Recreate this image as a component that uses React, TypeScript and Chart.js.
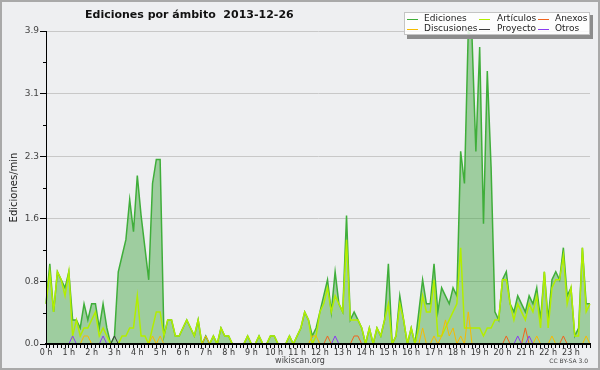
import React, { useEffect, useRef } from 'react';
import { Chart, registerables } from 'chart.js';

Chart.register(...registerables);

// ---- Data (edits per minute, 10-minute bins, 2013-12-26) ----
const hourLabels = [
  '0 h', '1 h', '2 h', '3 h', '4 h', '5 h', '6 h', '7 h', '8 h', '9 h', '10 h', '11 h',
  '12 h', '13 h', '14 h', '15 h', '16 h', '17 h', '18 h', '19 h', '20 h', '21 h', '22 h', '23 h',
];
const times = Array.from({ length: 144 }, (_, i) => `${Math.floor(i / 6)}:${String((i % 6) * 10).padStart(2, '0')}`);

const ediciones = [
  0.5, 1.0, 0.4, 0.9, 0.8, 0.7, 0.9, 0.3, 0.3, 0.2, 0.5, 0.3,
  0.5, 0.5, 0.2, 0.5, 0.2, 0.0, 0.1, 0.9, 1.1, 1.3, 1.8, 1.4,
  2.1, 1.6, 1.2, 0.8, 2.0, 2.3, 2.3, 0.1, 0.3, 0.3, 0.1, 0.1,
  0.2, 0.3, 0.2, 0.1, 0.3, 0.0, 0.1, 0.0, 0.1, 0.0, 0.2, 0.1,
  0.1, 0.0, 0.0, 0.0, 0.0, 0.1, 0.0, 0.0, 0.1, 0.0, 0.0, 0.1,
  0.1, 0.0, 0.0, 0.0, 0.1, 0.0, 0.1, 0.2, 0.4, 0.3, 0.1, 0.2,
  0.4, 0.6, 0.8, 0.4, 0.9, 0.5, 0.4, 1.6, 0.3, 0.4, 0.3, 0.2,
  0.0, 0.2, 0.0, 0.2, 0.1, 0.3, 1.0, 0.0, 0.1, 0.6, 0.3, 0.0,
  0.2, 0.0, 0.4, 0.8, 0.5, 0.5, 1.0, 0.4, 0.7, 0.6, 0.5, 0.7,
  0.6, 2.4, 2.0, 3.9, 3.8, 2.4, 3.7, 1.5, 3.4, 2.2, 0.4, 0.3,
  0.8, 0.9, 0.5, 0.4, 0.6, 0.5, 0.4, 0.6, 0.5, 0.7, 0.3, 0.9,
  0.3, 0.8, 0.9, 0.8, 1.2, 0.6, 0.7, 0.1, 0.2, 1.2, 0.5, 0.5,
];
const articulos = [
  0.5, 0.9, 0.4, 0.9, 0.8, 0.6, 0.9, 0.1, 0.3, 0.1, 0.2, 0.2,
  0.3, 0.4, 0.1, 0.2, 0.1, 0.0, 0.0, 0.0, 0.1, 0.1, 0.2, 0.2,
  0.6, 0.1, 0.1, 0.0, 0.2, 0.4, 0.4, 0.1, 0.3, 0.3, 0.1, 0.1,
  0.2, 0.3, 0.2, 0.1, 0.3, 0.0, 0.0, 0.0, 0.1, 0.0, 0.2, 0.1,
  0.1, 0.0, 0.0, 0.0, 0.0, 0.1, 0.0, 0.0, 0.1, 0.0, 0.0, 0.1,
  0.1, 0.0, 0.0, 0.0, 0.1, 0.0, 0.1, 0.2, 0.4, 0.3, 0.0, 0.1,
  0.4, 0.5, 0.7, 0.4, 0.6, 0.5, 0.4, 1.3, 0.3, 0.3, 0.3, 0.2,
  0.0, 0.2, 0.0, 0.2, 0.1, 0.3, 0.5, 0.0, 0.1, 0.5, 0.3, 0.0,
  0.2, 0.0, 0.2, 0.6, 0.4, 0.4, 0.8, 0.1, 0.1, 0.2, 0.3, 0.4,
  0.5, 1.2, 0.2, 0.2, 0.2, 0.2, 0.2, 0.1, 0.2, 0.2, 0.3, 0.3,
  0.8, 0.8, 0.5, 0.3, 0.5, 0.4, 0.3, 0.5, 0.4, 0.6, 0.2, 0.9,
  0.2, 0.7, 0.8, 0.8, 1.1, 0.5, 0.7, 0.1, 0.1, 1.2, 0.4, 0.5,
];
const discusiones = [
  0, 0, 0, 0, 0, 0, 0, 0, 0, 0, 0.1, 0.1,
  0, 0, 0, 0, 0, 0, 0, 0, 0, 0, 0, 0,
  0, 0, 0, 0, 0.1, 0, 0.1, 0, 0, 0, 0, 0,
  0, 0, 0, 0, 0, 0, 0.1, 0, 0, 0, 0, 0,
  0, 0, 0, 0, 0, 0, 0, 0, 0, 0, 0, 0,
  0, 0, 0, 0, 0, 0, 0, 0, 0, 0, 0.1, 0.1,
  0, 0, 0, 0, 0, 0, 0, 0, 0, 0, 0, 0,
  0, 0, 0, 0, 0, 0, 0, 0, 0, 0, 0, 0,
  0, 0, 0, 0.2, 0, 0, 0.1, 0, 0.1, 0.3, 0.1, 0.2,
  0, 0.1, 0, 0.4, 0, 0, 0, 0, 0, 0, 0, 0,
  0, 0, 0, 0, 0, 0, 0, 0, 0, 0.1, 0, 0,
  0, 0.1, 0, 0, 0, 0, 0, 0, 0, 0, 0.1, 0,
];
const anexos = [
  0, 0, 0, 0, 0, 0, 0, 0, 0, 0, 0, 0,
  0, 0, 0, 0, 0, 0, 0, 0, 0, 0, 0, 0,
  0, 0, 0, 0, 0, 0, 0, 0, 0, 0, 0, 0,
  0, 0, 0, 0, 0, 0, 0, 0, 0, 0, 0, 0,
  0, 0, 0, 0, 0, 0, 0, 0, 0, 0, 0, 0,
  0, 0, 0, 0, 0, 0, 0, 0, 0, 0, 0, 0,
  0, 0, 0.1, 0, 0, 0, 0, 0, 0, 0.1, 0.1, 0,
  0, 0, 0, 0, 0, 0, 0, 0, 0, 0, 0, 0,
  0, 0, 0, 0, 0, 0, 0, 0, 0, 0, 0, 0,
  0, 0, 0, 0, 0, 0, 0, 0, 0, 0, 0, 0,
  0, 0.1, 0, 0, 0, 0, 0.2, 0, 0, 0, 0, 0,
  0, 0, 0, 0, 0.1, 0, 0, 0, 0, 0, 0, 0,
];
const proyecto = [
  0, 0, 0, 0, 0, 0, 0, 0, 0, 0, 0, 0,
  0, 0, 0, 0, 0, 0, 0.1, 0, 0, 0, 0, 0,
  0, 0, 0, 0, 0, 0, 0, 0, 0, 0, 0, 0,
  0, 0, 0, 0, 0, 0, 0, 0, 0, 0, 0, 0,
  0, 0, 0, 0, 0, 0, 0, 0, 0, 0, 0, 0,
  0, 0, 0, 0, 0, 0, 0, 0, 0, 0, 0, 0,
  0, 0, 0, 0, 0, 0, 0, 0, 0, 0, 0, 0,
  0, 0, 0, 0, 0, 0, 0, 0, 0, 0, 0, 0,
  0, 0, 0, 0, 0, 0, 0, 0, 0, 0, 0, 0,
  0, 0, 0, 0, 0, 0, 0, 0, 0, 0, 0, 0,
  0, 0, 0, 0, 0, 0, 0, 0, 0, 0, 0, 0,
  0, 0, 0, 0, 0, 0, 0, 0, 0, 0, 0, 0,
];
const otros = [
  0, 0, 0, 0, 0, 0, 0, 0.1, 0, 0, 0, 0,
  0, 0, 0, 0.1, 0, 0, 0, 0, 0, 0, 0, 0,
  0, 0, 0, 0, 0, 0, 0, 0, 0, 0, 0, 0,
  0, 0, 0, 0, 0, 0, 0, 0, 0, 0, 0, 0,
  0, 0, 0, 0, 0, 0, 0, 0, 0, 0, 0, 0,
  0, 0, 0, 0, 0, 0, 0, 0, 0, 0, 0, 0,
  0, 0, 0, 0, 0.1, 0, 0, 0, 0, 0, 0, 0,
  0, 0, 0, 0, 0, 0, 0, 0, 0, 0, 0, 0,
  0, 0, 0, 0, 0, 0, 0, 0, 0, 0, 0, 0,
  0, 0, 0, 0, 0, 0, 0, 0, 0, 0, 0, 0,
  0, 0, 0, 0, 0.1, 0, 0, 0.1, 0, 0, 0, 0,
  0, 0, 0, 0, 0, 0, 0, 0, 0, 0, 0, 0,
];

const yMax = 3.9;
const yTickValues = [0, 0.78, 1.56, 2.34, 3.12, 3.9];
const yTickLabels = ['0.0', '0.8', '1.6', '2.3', '3.1', '3.9'];
const yMinorValues = [0.39, 1.17, 1.95, 2.73, 3.51];

const titleText = 'Ediciones por ámbito  2013-12-26';
const yTitle = 'Ediciones/min';

const COLORS = {
  ediciones: '#3fae3a',
  articulos: '#b2ee00',
  discusiones: '#f5bb00',
  anexos: '#f0641e',
  proyecto: '#3c3c3c',
  otros: '#8a3cf0',
};

// legend layout: [label, color] by rows
const legendRows = [
  [['Ediciones', COLORS.ediciones], ['Artículos', COLORS.articulos], ['Anexos', COLORS.anexos]],
  [['Discusiones', COLORS.discusiones], ['Proyecto', COLORS.proyecto], ['Otros', COLORS.otros]],
];

const decorPlugin = {
  id: 'decor',
  beforeDraw(chart: any) {
    const { ctx, width, height } = chart;
    ctx.save();
    ctx.fillStyle = '#eeeff1';
    ctx.fillRect(0, 0, width, height);
    ctx.strokeStyle = '#a9a9a9';
    ctx.lineWidth = 2;
    ctx.strokeRect(1, 1, width - 2, height - 2);
    ctx.restore();
  },
  afterDraw(chart: any) {
    const { ctx } = chart;
    const y = chart.scales.y;
    ctx.save();
    // minor y ticks
    ctx.strokeStyle = '#000';
    ctx.lineWidth = 1;
    yMinorValues.forEach((v) => {
      const py = Math.round(y.getPixelForValue(v)) + 0.5;
      ctx.beginPath();
      ctx.moveTo(y.right - 3, py);
      ctx.lineTo(y.right, py);
      ctx.stroke();
    });
    // title
    ctx.font = 'bold 11px "DejaVu Sans"';
    ctx.fillStyle = '#111';
    ctx.textAlign = 'left';
    ctx.textBaseline = 'alphabetic';
    ctx.fillText(titleText, 85, 18);
    // footer
    ctx.font = '8px "DejaVu Sans"';
    ctx.fillStyle = '#444';
    ctx.textAlign = 'center';
    ctx.fillText('wikiscan.org', 300, 363);
    ctx.font = '6px "DejaVu Sans"';
    ctx.textAlign = 'right';
    ctx.fillText('CC BY-SA 3.0', 588, 363);
    // legend
    const bx = 404, by = 12, bw = 186, bh = 23;
    ctx.fillStyle = '#8c8c8c';
    ctx.fillRect(bx + 3, by + bh, bw, 4);
    ctx.fillRect(bx + bw, by + 3, 3, bh + 1);
    ctx.fillStyle = 'rgba(255,255,255,0.85)';
    ctx.fillRect(bx, by, bw, bh);
    ctx.strokeStyle = '#c4c4c4';
    ctx.lineWidth = 1;
    ctx.strokeRect(bx + 0.5, by + 0.5, bw - 1, bh - 1);
    const colX = [407, 479, 538];
    const textX = [424, 497, 555];
    const rowY = [19, 29];
    ctx.font = '9px "DejaVu Sans"';
    ctx.textAlign = 'left';
    ctx.textBaseline = 'middle';
    legendRows.forEach((row, r) => {
      row.forEach(([label, color], c) => {
        ctx.strokeStyle = color;
        ctx.lineWidth = 1;
        ctx.beginPath();
        ctx.moveTo(colX[c], rowY[r] + 0.5);
        ctx.lineTo(colX[c] + 11, rowY[r] + 0.5);
        ctx.stroke();
        ctx.fillStyle = '#222';
        ctx.fillText(label, textX[c], rowY[r]);
      });
    });
    ctx.restore();
  },
};

export default function App() {
  const ref = useRef<HTMLCanvasElement>(null);

  useEffect(() => {
    if (!ref.current) return;
    Chart.defaults.font.family = '"DejaVu Sans"';
    const line = (label: string, data: number[], color: string, order: number, width: number) => ({
      label,
      data,
      borderColor: color,
      backgroundColor: color,
      borderWidth: width,
      pointRadius: 0,
      fill: false,
      tension: 0,
      order,
    });
    const chart = new Chart(ref.current, {
      type: 'line',
      data: {
        labels: times,
        datasets: [
          {
            ...line('Ediciones', ediciones, COLORS.ediciones, 6, 1.5),
            fill: 'origin',
            backgroundColor: 'rgba(60,165,60,0.45)',
          },
          line('Artículos', articulos, COLORS.articulos, 5, 1.5),
          line('Discusiones', discusiones, COLORS.discusiones, 4, 1),
          line('Anexos', anexos, COLORS.anexos, 3, 1),
          line('Proyecto', proyecto, COLORS.proyecto, 2, 1),
          line('Otros', otros, COLORS.otros, 1, 1),
        ],
      },
      options: {
        responsive: false,
        maintainAspectRatio: false,
        animation: false,
        devicePixelRatio: 1,
        layout: { padding: { top: 31, right: 10, left: 0, bottom: 0 } },
        plugins: {
          legend: { display: false },
          title: { display: false },
          tooltip: { enabled: false },
        },
        scales: {
          x: {
            type: 'category',
            offset: false,
            afterFit: (s: any) => { s.height = 26; },
            ticks: {
              autoSkip: false,
              maxRotation: 0,
              minRotation: 0,
              padding: 0,
              color: '#333',
              font: { family: '"DejaVu Sans"', size: 8 },
              callback: (_v: any, i: number) => (i % 6 === 0 ? hourLabels[i / 6] : ''),
            },
            grid: {
              display: true,
              drawOnChartArea: false,
              drawTicks: true,
              tickLength: 4,
              tickColor: '#000',
              tickWidth: 1,
            },
            border: { display: true, color: '#000', width: 2, z: 1 },
          },
          y: {
            min: 0,
            max: yMax,
            afterFit: (s: any) => { s.width = 46; },
            afterBuildTicks: (s: any) => { s.ticks = yTickValues.map((v) => ({ value: v })); },
            ticks: {
              autoSkip: false,
              padding: 1,
              color: '#444',
              font: { family: '"DejaVu Sans"', size: 9 },
              callback: (_v: any, i: number) => yTickLabels[i],
            },
            grid: { color: '#c8c8c8', lineWidth: 1, tickColor: '#000', tickLength: 6 },
            border: { display: true, color: '#000', width: 1, z: 1 },
            title: {
              display: true,
              text: yTitle,
              color: '#222',
              font: { family: '"DejaVu Sans"', size: 10 },
              padding: { top: 8, bottom: 0 },
            },
          },
        },
      },
      plugins: [decorPlugin],
    } as any);
    return () => chart.destroy();
  }, []);

  return (
    <div style={{ position: 'absolute', left: 0, top: 0, width: 600, height: 370 }}>
      <canvas ref={ref} width={600} height={370} style={{ display: 'block', width: 600, height: 370 }} />
    </div>
  );
}
